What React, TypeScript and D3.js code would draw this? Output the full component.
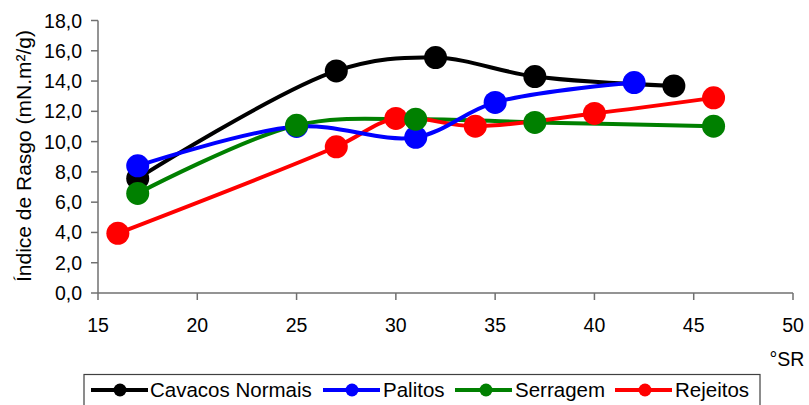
import React from "react";
import * as d3 from "d3";

// Tear index vs. freeness (°SR) for four raw-material types
const cavacosX = [17, 27, 32, 37, 44];
const cavacosY = [7.57, 14.67, 15.55, 14.3, 13.68];

const palitosX = [17, 25, 31, 35, 42];
const palitosY = [8.4, 11.0, 10.28, 12.59, 13.9];

const serragemX = [17, 25, 31, 37, 46];
const serragemY = [6.58, 11.08, 11.48, 11.27, 11.02];

const rejeitosX = [16, 27, 30, 34, 40, 46];
const rejeitosY = [3.94, 9.66, 11.53, 11.02, 11.86, 12.89];

const xTicks = [15, 20, 25, 30, 35, 40, 45, 50];
const yTicks = [0, 2, 4, 6, 8, 10, 12, 14, 16, 18];

const seriesNames = ["Cavacos Normais", "Palitos", "Serragem", "Rejeitos"];

const W = 809;
const H = 405;
const FONT = "'Liberation Sans', Arial, sans-serif";

export default function App() {
  const x = d3.scaleLinear().domain([15, 50]).range([98, 793]);
  const y = d3.scaleLinear().domain([0, 18]).range([293, 20.5]);

  const series = [
    { name: seriesNames[0], xs: cavacosX, ys: cavacosY, color: "#000000" },
    { name: seriesNames[1], xs: palitosX, ys: palitosY, color: "#0000FF" },
    { name: seriesNames[2], xs: serragemX, ys: serragemY, color: "#008000" },
    { name: seriesNames[3], xs: rejeitosX, ys: rejeitosY, color: "#FF0000" },
  ];

  const line = d3
    .line<[number, number]>()
    .x((d) => x(d[0]))
    .y((d) => y(d[1]))
    .curve(d3.curveCatmullRom.alpha(0.5));

  const pts = (s: (typeof series)[number]) =>
    s.xs.map((v, i) => [v, s.ys[i]] as [number, number]);

  // stacking: lines black, green, red, blue; markers black, blue, red, green
  const lineOrder = [0, 2, 3, 1];
  const markerOrder = [0, 1, 3, 2];

  const fmt = (v: number) => v.toFixed(1).replace(".", ",");

  const legendItems = [
    { s: 0, x0: 91, x1: 148, cx: 120, tx: 150 },
    { s: 1, x0: 323, x1: 380, cx: 352, tx: 383 },
    { s: 2, x0: 455, x1: 512, cx: 486, tx: 515 },
    { s: 3, x0: 615, x1: 672, cx: 645, tx: 675 },
  ];
  const ly = 390;

  return (
    <svg
      width={W}
      height={H}
      style={{ position: "absolute", left: 0, top: 0, background: "#fff" }}
      fontFamily={FONT}
    >
      <rect x={0} y={0} width={W} height={H} fill="#fff" />

      {/* Axes */}
      <line x1={x(15)} x2={x(15)} y1={y(18)} y2={y(0)} stroke="#707070" strokeWidth={1.5} />
      <line x1={x(15)} x2={x(50)} y1={y(0)} y2={y(0)} stroke="#707070" strokeWidth={1.5} />

      {yTicks.map((t) => (
        <g key={"y" + t}>
          <line x1={x(15) - 7} x2={x(15)} y1={y(t)} y2={y(t)} stroke="#707070" strokeWidth={1.5} />
          <text
            x={82}
            y={y(t)}
            dy="0.36em"
            textAnchor="end"
            fontSize={19.5}
            fill="#000"
          >
            {fmt(t)}
          </text>
        </g>
      ))}

      {xTicks.map((t) => (
        <g key={"x" + t}>
          <line x1={x(t)} x2={x(t)} y1={y(0)} y2={y(0) + 7} stroke="#707070" strokeWidth={1.5} />
          <text x={x(t)} y={332} textAnchor="middle" fontSize={19.5} fill="#000">
            {t}
          </text>
        </g>
      ))}

      <text x={787} y={366} textAnchor="middle" fontSize={19.5} fill="#000">
        °SR
      </text>

      <text
        transform={`translate(23,156) rotate(-90)`}
        textAnchor="middle"
        dominantBaseline="central"
        fontSize={21}
        fill="#000"
      >
        Índice de Rasgo (mN.m²/g)
      </text>

      {/* Lines */}
      {lineOrder.map((i) => (
        <path
          key={"l" + i}
          d={line(pts(series[i])) || ""}
          fill="none"
          stroke={series[i].color}
          strokeWidth={4}
          strokeLinejoin="round"
        />
      ))}

      {/* Markers */}
      {markerOrder.map((i) => (
        <g key={"m" + i}>
          {pts(series[i]).map((p, j) => (
            <circle key={j} cx={x(p[0])} cy={y(p[1])} r={11.5} fill={series[i].color} />
          ))}
        </g>
      ))}

      {/* Legend */}
      <rect x={84} y={374.5} width={676} height={40} fill="#fff" stroke="#404040" strokeWidth={1.2} />
      {legendItems.map((it) => (
        <g key={"lg" + it.s}>
          <line
            x1={it.x0}
            x2={it.x1}
            y1={ly}
            y2={ly}
            stroke={series[it.s].color}
            strokeWidth={4}
          />
          <circle cx={it.cx} cy={ly} r={6.5} fill={series[it.s].color} />
          <text x={it.tx} y={ly + 7} fontSize={20.5} fill="#000">
            {series[it.s].name}
          </text>
        </g>
      ))}
    </svg>
  );
}
